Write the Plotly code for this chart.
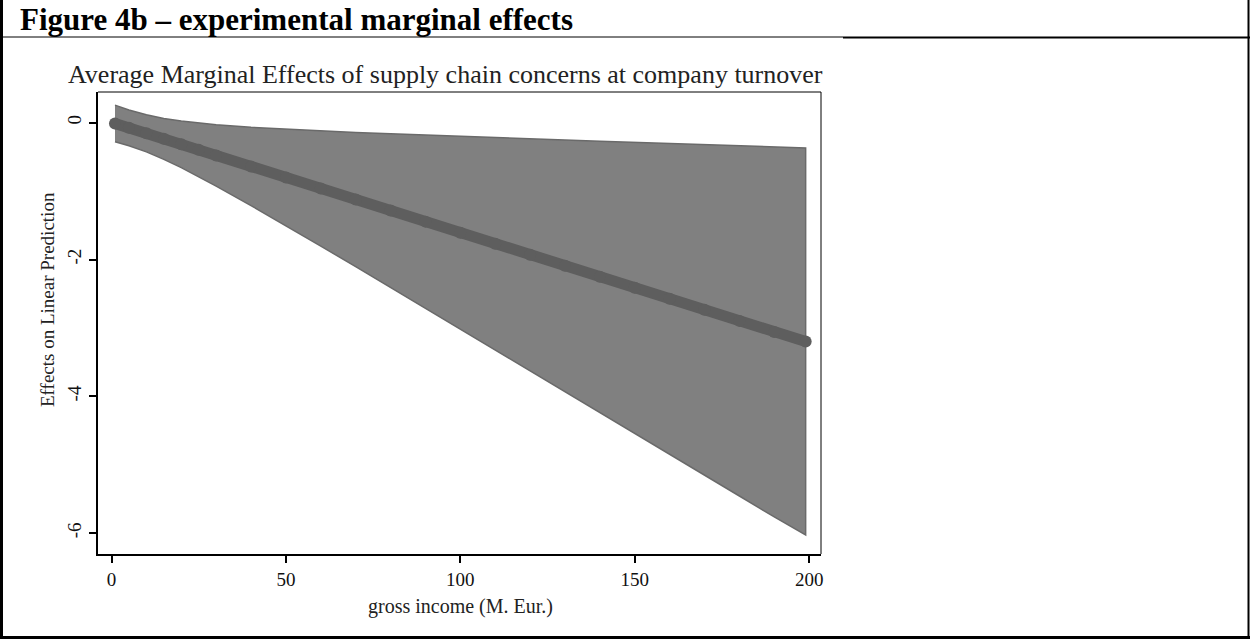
import plotly.graph_objects as go

# ---- data ----
income = [1, 5, 10, 15, 20, 25, 30, 40, 50, 60, 70, 80, 90, 100,
          110, 120, 130, 140, 150, 160, 170, 180, 190, 199]
effect = [-0.01, -0.075, -0.155, -0.236, -0.316, -0.397, -0.478, -0.639, -0.800,
          -0.962, -1.123, -1.284, -1.446, -1.607, -1.768, -1.929, -2.091, -2.252,
          -2.413, -2.575, -2.736, -2.897, -3.059, -3.200]
upper = [0.257, 0.186, 0.116, 0.063, 0.024, -0.006, -0.030, -0.067, -0.095,
         -0.120, -0.142, -0.162, -0.182, -0.200, -0.218, -0.236, -0.254, -0.270,
         -0.287, -0.305, -0.321, -0.337, -0.355, -0.368]
lower = [-0.277, -0.336, -0.426, -0.535, -0.656, -0.788, -0.926, -1.211, -1.505,
         -1.804, -2.104, -2.406, -2.710, -3.014, -3.318, -3.622, -3.928, -4.234,
         -4.539, -4.845, -5.151, -5.457, -5.763, -6.025]
x_ticks = [0, 50, 100, 150, 200]
y_ticks = [0, -2, -4, -6]
y_tick_labels = ["0", "-2", "-4", "-6"]

FONT = "Liberation Serif"
W, H = 1250, 640
L, R, T, B = 98, 821, 92, 554


def px(xp):
    return (xp - L) / (R - L)


def py(yp):
    return (B - yp) / (B - T)


fig = go.Figure()

# confidence band
fig.add_trace(go.Scatter(
    x=income + income[::-1],
    y=upper + lower[::-1],
    fill="toself",
    fillcolor="#808080",
    line=dict(color="#6a6a6a", width=1.5),
    mode="lines",
    hoverinfo="skip",
    showlegend=False,
))

# estimate (thick dotted line)
fig.add_trace(go.Scatter(
    x=income, y=effect,
    mode="lines+markers",
    line=dict(color="#5e5e5e", width=11),
    marker=dict(color="#5e5e5e", size=12),
    showlegend=False,
))

fig.update_xaxes(
    range=[-3.87, 203.4],
    tickvals=x_ticks,
    ticks="outside", ticklen=7, tickwidth=1.5, tickcolor="black",
    showline=True, linecolor="black", linewidth=2,
    showgrid=False, zeroline=False,
    tickfont=dict(family=FONT, size=19, color="#111111"),
)
fig.update_yaxes(
    range=[-6.305, 0.449],
    tickvals=y_ticks, ticktext=y_tick_labels,
    tickangle=-90,
    ticks="outside", ticklen=7, tickwidth=1.5, tickcolor="black",
    showline=True, linecolor="black", linewidth=2,
    showgrid=False, zeroline=False,
    tickfont=dict(family=FONT, size=19, color="#111111"),
)

shapes = [
    # thin frame top/right of plot region
    dict(type="line", xref="paper", yref="paper", x0=0, x1=1, y0=1, y1=1,
         line=dict(color="black", width=1)),
    dict(type="line", xref="paper", yref="paper", x0=1, x1=1, y0=0, y1=1,
         line=dict(color="black", width=1)),
    # outer document frame
    dict(type="line", xref="paper", yref="paper", x0=px(1.5), x1=px(1.5),
         y0=py(0), y1=py(638), line=dict(color="black", width=3)),
    dict(type="line", xref="paper", yref="paper", x0=px(1248.5), x1=px(1248.5),
         y0=py(0), y1=py(638), line=dict(color="black", width=2)),
    dict(type="line", xref="paper", yref="paper", x0=px(0), x1=px(1250),
         y0=py(637.5), y1=py(637.5), line=dict(color="black", width=3)),
    dict(type="line", xref="paper", yref="paper", x0=px(0), x1=px(843),
         y0=py(37), y1=py(37), line=dict(color="black", width=1)),
    dict(type="line", xref="paper", yref="paper", x0=px(843), x1=px(1250),
         y0=py(37.5), y1=py(37.5), line=dict(color="black", width=2)),
]

annotations = [
    dict(text="<b>Figure 4b – experimental marginal effects</b>",
         xref="paper", yref="paper", x=px(18), y=py(19),
         xanchor="left", yanchor="middle", showarrow=False,
         font=dict(family=FONT, size=31, color="black")),
    dict(text="Average Marginal Effects of supply chain concerns at company turnover",
         xref="paper", yref="paper", x=px(445), y=py(74),
         xanchor="center", yanchor="middle", showarrow=False,
         font=dict(family=FONT, size=26, color="#222222")),
    dict(text="gross income (M. Eur.)",
         xref="paper", yref="paper", x=px(460), y=py(606),
         xanchor="center", yanchor="middle", showarrow=False,
         font=dict(family=FONT, size=20, color="#222222")),
    dict(text="Effects on Linear Prediction",
         xref="paper", yref="paper", x=px(47), y=py(300),
         xanchor="center", yanchor="middle", showarrow=False, textangle=-90,
         font=dict(family=FONT, size=19, color="#222222")),
]

fig.update_layout(
    width=W, height=H,
    margin=dict(l=L, r=W - R, t=T, b=H - B, pad=0),
    paper_bgcolor="white", plot_bgcolor="white",
    shapes=shapes, annotations=annotations,
    showlegend=False,
)

fig.write_html("out.html")
